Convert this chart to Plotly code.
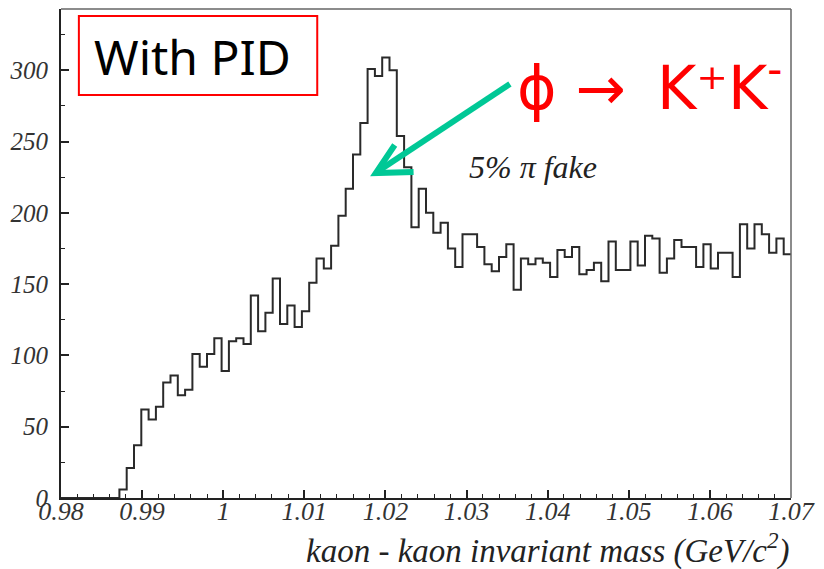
import plotly.graph_objects as go

# Histogram definition (kaon-kaon invariant mass, GeV/c^2)
x_min = 0.98
x_max = 1.07
n_bins = 100
counts = [0, 0, 0, 0, 0, 0, 0, 0,
          6, 21, 37, 62, 55, 64, 81, 86, 72, 76,
          101, 92, 101, 112, 89, 110, 112, 108, 142, 117,
          130, 154, 122, 135, 120, 131, 151, 168, 161, 177,
          198, 217, 241, 263, 301, 296, 309, 300, 254, 232,
          190, 217, 200, 186, 193, 175, 162, 185, 185, 176,
          164, 159, 169, 178, 146, 168, 164, 168, 165, 155,
          174, 169, 176, 157, 160, 165, 152, 180, 160, 160,
          180, 163, 184, 182, 158, 168, 181, 176, 176, 162,
          178, 161, 172, 172, 155, 192, 175, 192, 185, 172,
          182, 171]

x_tickvals = [0.98, 0.99, 1.00, 1.01, 1.02, 1.03, 1.04, 1.05, 1.06, 1.07]
x_ticktext = ["0.98", "0.99", "1", "1.01", "1.02", "1.03", "1.04", "1.05", "1.06", "1.07"]
y_tickvals = [0, 50, 100, 150, 200, 250, 300]
y_ticktext = ["0", "50", "100", "150", "200", "250", "300"]

bw = (x_max - x_min) / n_bins
edges = [x_min + i * bw for i in range(n_bins + 1)]
xs = edges
ys = counts + [counts[-1]]

W, H = 824, 569
ML, MR, MT, MB = 61, 28, 9, 71
PW, PH = W - ML - MR, H - MT - MB


def px(x):
    return (x - ML) / PW


def py(y):
    return (H - MB - y) / PH


def dx(x):  # pixel -> data x (for annotation arrow)
    return x_min + (x - ML) / PW * (x_max - x_min)


YMAX = 343


def dy(y):
    return (H - MB - y) / PH * YMAX


fig = go.Figure()
fig.add_trace(go.Scatter(x=xs, y=ys, mode="lines", line=dict(shape="hv", color="#2a2a2a", width=2),
                         hoverinfo="skip", showlegend=False))

serif_italic = dict(family="Liberation Serif", size=26, color="#333", style="italic")

fig.update_layout(
    width=W, height=H,
    margin=dict(l=ML, r=MR, t=MT, b=MB, pad=0),
    paper_bgcolor="white", plot_bgcolor="white",
    showlegend=False,
    xaxis=dict(range=[x_min, x_max], showline=True, linecolor="#222", linewidth=2,
               ticks="inside", ticklen=8, tickwidth=1.5, tickcolor="#222",
               tickvals=x_tickvals, ticktext=x_ticktext, ticklabelstandoff=-11,
               minor=dict(tickvals=[x_min + 0.002 * i for i in range(46)], ticks="inside", ticklen=4, tickcolor="#222", tickwidth=1.2),
               showgrid=False, zeroline=False, tickfont=serif_italic),
    yaxis=dict(range=[0, YMAX], showline=True, linecolor="#222", linewidth=2,
               ticks="inside", ticklen=8, tickwidth=1.5, tickcolor="#222",
               tickvals=y_tickvals, ticktext=y_ticktext,
               minor=dict(dtick=25, ticks="inside", ticklen=4, tickcolor="#222", tickwidth=1.2),
               showgrid=False, zeroline=False, ticklabelstandoff=6,
               tickfont=dict(family="Liberation Serif", size=25, color="#333", style="italic")),
)

# top / right frame
fig.add_shape(type="line", xref="paper", yref="paper", x0=0, x1=1, y0=1, y1=1,
              line=dict(color="#666", width=1.5))
fig.add_shape(type="line", xref="paper", yref="paper", x0=1, x1=1, y0=0, y1=1,
              line=dict(color="#666", width=1.5))

# "With PID" box
fig.add_shape(type="rect", xref="paper", yref="paper", x0=px(79), x1=px(319), y0=py(95), y1=py(16),
              line=dict(color="#ff0000", width=2), fillcolor="rgba(0,0,0,0)")
fig.add_annotation(xref="paper", yref="paper", x=px(193), y=py(56), text="With PID", showarrow=False,
                   xanchor="center", yanchor="middle",
                   font=dict(family="Noto Sans", size=48, color="black"))

# phi -> K+K- label
fig.add_annotation(xref="paper", yref="paper", x=px(518), y=py(84), text="ϕ → \u2009K\u207aK<sup>-</sup>",
                   showarrow=False, xanchor="left", yanchor="middle",
                   font=dict(family="DejaVu Sans", size=60, color="#ff0000"))

# 5% pi fake
fig.add_annotation(xref="paper", yref="paper", x=px(470), y=py(167), text="5% π fake",
                   showarrow=False, xanchor="left", yanchor="middle",
                   font=dict(family="Liberation Serif", size=32, color="#222", style="italic"))

# green arrow
green = "#00c896"
tip = (378, 173)
tail = (513, 84)
arm1 = (397, 145)
arm2 = (416, 172)
fig.add_shape(type="line", xref="x", yref="y", x0=dx(tail[0]), y0=dy(tail[1]), x1=dx(tip[0] + 4), y1=dy(tip[1] - 3),
              line=dict(color=green, width=6))
fig.add_shape(type="path", xref="x", yref="y",
              path=f"M {dx(arm1[0])},{dy(arm1[1])} L {dx(tip[0])},{dy(tip[1])} L {dx(arm2[0])},{dy(arm2[1])}",
              line=dict(color=green, width=6))

# x axis title
fig.add_annotation(xref="paper", yref="paper", x=px(797), y=py(548),
                   text="kaon - kaon invariant mass (GeV/c<sup>2</sup>)", showarrow=False,
                   xanchor="right", yanchor="middle",
                   font=dict(family="Liberation Serif", size=33, color="#222", style="italic"))

fig.write_html("out.html")
